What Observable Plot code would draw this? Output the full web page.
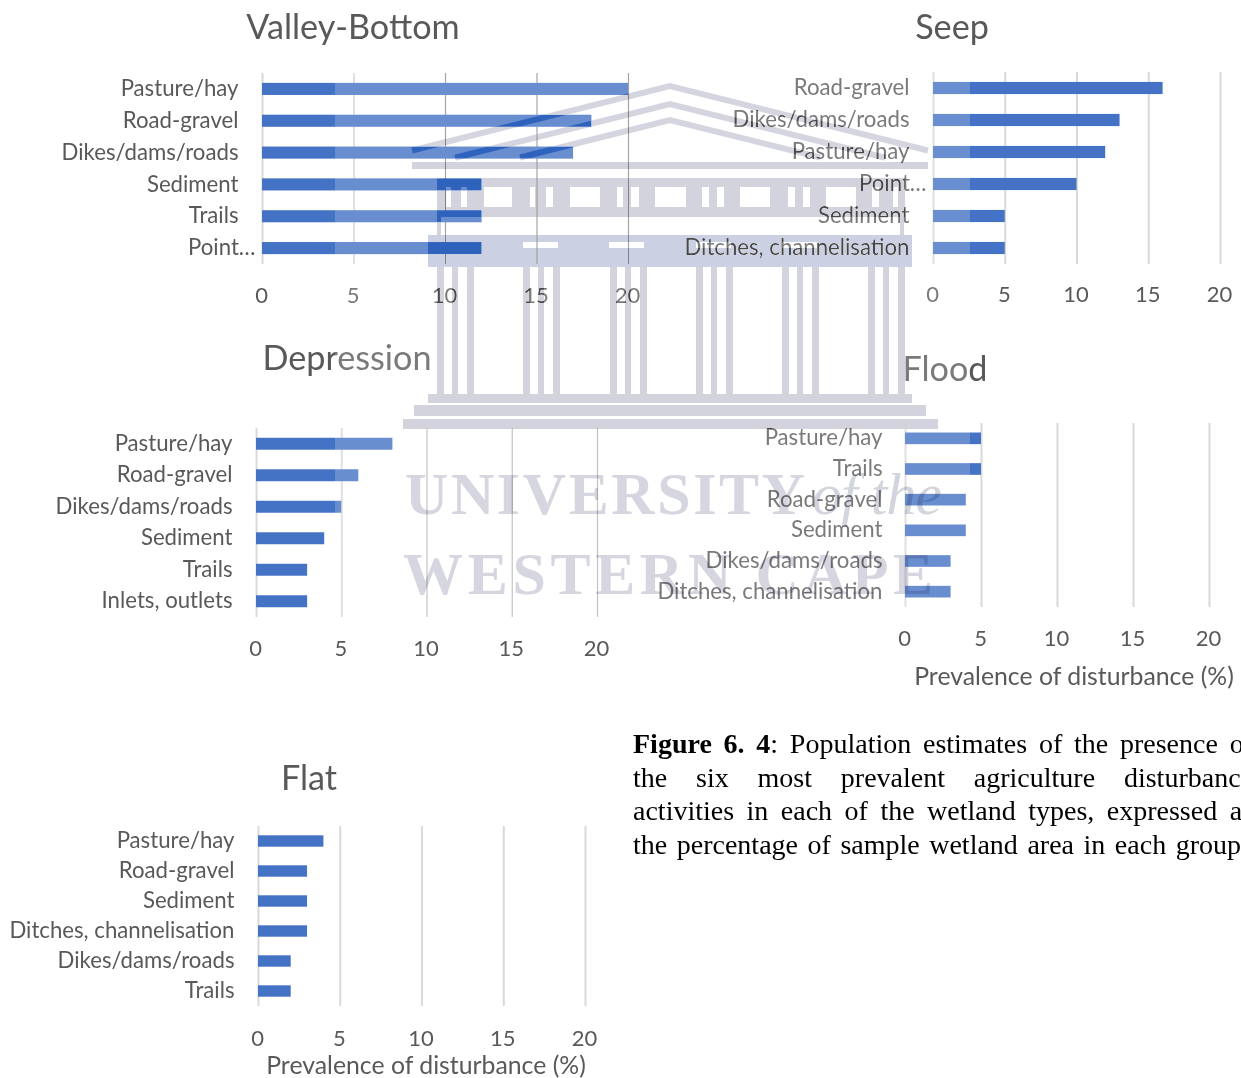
<!DOCTYPE html>
<html>
<head>
<meta charset="utf-8">
<script src="https://cdn.jsdelivr.net/npm/d3@7"></script>
<script src="https://cdn.jsdelivr.net/npm/@observablehq/plot@0.6"></script>
<style>
html,body{margin:0;padding:0;background:#fff;overflow:hidden}
#page{position:relative;width:1241px;height:1078px;overflow:hidden;font-family:Lato,sans-serif;color:#595959}
.panel{position:absolute}
.panel svg{display:block;overflow:visible;background:transparent}
.title{position:absolute;font-size:34.2px;line-height:40px;transform:translateX(-50%);white-space:nowrap;color:#595959}
.xlabel{position:absolute;font-size:24.8px;line-height:24px;transform:translateX(-50%);white-space:nowrap;color:#595959}
#caption{position:absolute;left:633px;top:727px;width:620px;font-family:"Liberation Serif",serif;font-size:28px;line-height:33.7px;color:#000}
#caption div{text-align:justify;text-align-last:justify;white-space:nowrap}
#caption div:last-child{width:608px}
#wm{position:absolute;left:0;top:0;pointer-events:none}
</style>
</head>
<body>
<div id="page"></div>
<script>
const xTicks = [0, 5, 10, 15, 20];

const valleyCats = ["Pasture/hay", "Road-gravel", "Dikes/dams/roads", "Sediment", "Trails", "Point…"];
const valleyVals = [20, 18, 17, 12, 12, 12];
const seepCats = ["Road-gravel", "Dikes/dams/roads", "Pasture/hay", "Point…", "Sediment", "Ditches, channelisation"];
const seepVals = [16, 13, 12, 10, 5, 5];
const depressionCats = ["Pasture/hay", "Road-gravel", "Dikes/dams/roads", "Sediment", "Trails", "Inlets, outlets"];
const depressionVals = [8, 6, 5, 4, 3, 3];
const floodCats = ["Pasture/hay", "Trails", "Road-gravel", "Sediment", "Dikes/dams/roads", "Ditches, channelisation"];
const floodVals = [5, 5, 4, 4, 3, 3];
const flatCats = ["Pasture/hay", "Road-gravel", "Sediment", "Ditches, channelisation", "Dikes/dams/roads", "Trails"];
const flatVals = [4, 3, 3, 3, 2, 2];

const BAR = "#4472C4", GRID = "#d9d9d9", INK = "#595959";
const page = document.getElementById("page");

function panel(o) {
  const mL = 262, mR = 20, mB = 60, mT = 5;
  const w = o.x20 - o.x0;
  const rows = o.cats.map((c, i) => ({cat: c, value: o.vals[i]}));
  const long = o.cats.filter(c => c !== "Point…");
  const short = o.cats.filter(c => c === "Point…");
  const chart = Plot.plot({
    width: mL + w + mR, height: mT + (o.y1 - o.y0) + mB,
    marginLeft: mL, marginRight: mR, marginTop: mT, marginBottom: mB,
    style: {background: "transparent", fontFamily: "Lato, sans-serif", color: INK, overflow: "visible"},
    x: {domain: [0, 20], label: null},
    y: {domain: o.cats, label: null, paddingInner: 0.62, paddingOuter: 0.31, round: false},
    marks: [
      Plot.ruleX(xTicks.filter(t => !(o.thin || []).includes(t)), {x: d => d, stroke: GRID, strokeWidth: 2}),
      Plot.ruleX(o.thin || [], {x: d => d, stroke: o.thinColor, strokeWidth: 1.2}),
      Plot.barX(rows, {x: "value", y: "cat", fill: BAR}),
      Plot.axisX({ticks: xTicks, tickSize: 0, tickPadding: o.tickPad, dx: -1, fontSize: 22, fill: INK, label: null}),
      Plot.axisY({ticks: long, tickSize: 0, tickPadding: o.labPad, dy: -0.5, fontSize: o.labSize, fill: INK, label: null}),
      ...(short.length ? [Plot.axisY({ticks: short, tickSize: 0, tickPadding: 7, dy: -0.5, fontSize: o.labSize, fill: INK, label: null})] : [])
    ]
  });
  const d = document.createElement("div");
  d.className = "panel";
  d.style.left = (o.x0 - mL) + "px";
  d.style.top = (o.y0 - mT) + "px";
  d.appendChild(chart);
  page.appendChild(d);
  const t = document.createElement("div");
  t.className = "title";
  t.textContent = o.title;
  t.style.left = o.tx + "px";
  t.style.top = (o.ty - 21) + "px";
  page.appendChild(t);
  if (o.axisLabel) {
    const a = document.createElement("div");
    a.className = "xlabel";
    a.textContent = "Prevalence of disturbance (%)";
    a.style.left = o.axisLabel[0] + "px";
    a.style.top = (o.axisLabel[1] - 13) + "px";
    page.appendChild(a);
  }
}

panel({title: "Valley-Bottom", cats: valleyCats, vals: valleyVals, x0: 262, x20: 628, y0: 73, y1: 264, tx: 353, ty: 27, tickPad: 23, labPad: 24, labSize: 22.2, thin: [10, 15, 20], thinColor: "#8f8f8f"});
panel({title: "Seep", cats: seepCats, vals: seepVals, x0: 933, x20: 1220, y0: 72, y1: 264, tx: 952, ty: 27, tickPad: 22, labPad: 24, labSize: 22.2});
panel({title: "Depression", cats: depressionCats, vals: depressionVals, x0: 256, x20: 597, y0: 428, y1: 617, tx: 347, ty: 358, tickPad: 23, labPad: 24, labSize: 22.2, thin: [10, 15, 20], thinColor: "#b5b5b5"});
panel({title: "Flood", cats: floodCats, vals: floodVals, x0: 905, x20: 1209, y0: 423, y1: 607, tx: 945, ty: 369, tickPad: 23, labPad: 23, labSize: 22.2, axisLabel: [1074, 677]});
panel({title: "Flat", cats: flatCats, vals: flatVals, x0: 258, x20: 585, y0: 826, y1: 1006, tx: 309, ty: 778, tickPad: 24, labPad: 24, labSize: 22.2, axisLabel: [426, 1066]});

const cap = document.createElement("div");
cap.id = "caption";
cap.innerHTML = "<div><b>Figure 6. 4</b>: Population estimates of the presence of</div>" +
  "<div>the six most prevalent agriculture disturbance</div>" +
  "<div>activities in each of the wetland types, expressed as</div>" +
  "<div>the percentage of sample wetland area in each group</div>";
page.appendChild(cap);

/* Scanned-page watermark: decoration only, not chart data */
const NS = "http://www.w3.org/2000/svg";
const wm = document.createElementNS(NS, "svg");
wm.setAttribute("id", "wm");
wm.setAttribute("width", 1241);
wm.setAttribute("height", 1078);
function el(parent, name, attrs) {
  const e = document.createElementNS(NS, name);
  for (const k in attrs) e.setAttribute(k, attrs[k]);
  parent.appendChild(e);
  return e;
}
el(wm, "rect", {x: 335, y: 60, width: 635, height: 570, fill: "#fff", "fill-opacity": 0.2});

const box = (x, y, w, h) => `M${x} ${y}h${w}v${h}h${-w}z`;
const friezeHoles = [[446,5],[461,6],[484,28],[530,5],[546,7],[570,30],[617,6],[631,8],[655,31],[702,7],[717,7],[740,30],[788,7],[803,7],[826,30],[872,7],[893,5]];
const bandSlots = [523, 609, 696, 782];
const friezePath = box(437, 178, 468, 39) + friezeHoles.map(([x, w]) => box(x, 187, w, 20)).join("");
const bandPath = box(428, 235, 484, 32) + bandSlots.map(x => box(x, 242, 35, 6)).join("");
let colPath = "";
for (const x of [437, 523, 610, 696, 782, 868]) for (const [dx, w] of [[0, 7], [15, 6], [30, 7]]) colPath += box(x + dx, 267, w, 128);
const basePath = box(428, 394, 484, 9) + box(414, 405, 512, 11) + box(403, 419, 535, 10) + box(412, 162, 516, 7) + box(437, 217, 4, 18) + box(900, 217, 4, 18);
const chevrons = [[86, 258], [104, 215], [120, 150]];

function temple(g, grey, blue, lineGrey) {
  for (const [a, sx] of chevrons) el(g, "polyline", {points: `${670 - sx},${a + sx * 0.25} 670,${a} ${670 + sx},${a + sx * 0.25}`, fill: "none", stroke: lineGrey, "stroke-width": 6});
  el(g, "path", {d: friezePath, fill: grey, "fill-rule": "evenodd"});
  el(g, "path", {d: bandPath, fill: blue, "fill-rule": "evenodd"});
  el(g, "path", {d: colPath + basePath, fill: grey});
}
const burn = el(wm, "g", {style: "mix-blend-mode:color-burn"});
temple(burn, "#b8b8b8", "#b8b8b8", "#b8b8b8");
const dark = el(wm, "g", {style: "mix-blend-mode:darken"});
temple(dark, "#d2d3dd", "#ccd0e3", "#d4d5df");

const inkT = el(wm, "g", {style: "mix-blend-mode:multiply"});
const T = (txt, x, y, len, size, extra) => {
  const t = el(inkT, "text", Object.assign({x, y, textLength: len, lengthAdjust: "spacing", fill: "#d5d6e0", "font-family": "Liberation Serif, serif", "font-weight": 700, "font-size": size}, extra || {}));
  t.textContent = txt;
};
T("UNIVERSITY", 405, 514, 400, 60);
T("of the", 812, 514, 130, 60, {"font-style": "italic", "font-weight": 400, fill: "#d2d4de"});
T("WESTERN CAPE", 403, 594, 530, 60);
page.appendChild(wm);
</script>
</body>
</html>
